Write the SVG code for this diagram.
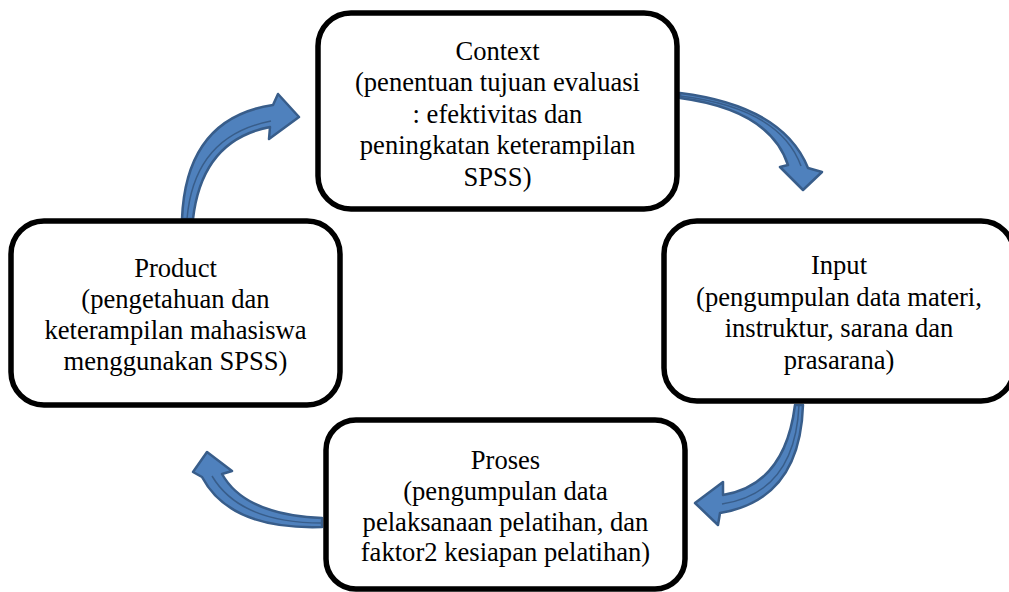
<svg xmlns="http://www.w3.org/2000/svg" width="1009" height="592" viewBox="0 0 1009 592">
<style>
.box{fill:#ffffff;stroke:#000000;stroke-width:5.5}
text{font-family:'Liberation Serif','DejaVu Serif',serif;font-size:26.6px;fill:#000000;text-anchor:middle}
.arr{fill:#4F81BD;stroke:#385D8A;stroke-width:2.5;stroke-linejoin:round}
.fold{fill:none;stroke:#385D8A;stroke-width:1.5}
</style>
<rect width="1009" height="592" fill="#ffffff"/>
<g id="connectors">
<path class="arr" d="M182,219 Q186,118 273,105 L278,94 L299,117 L269,139 L270,127 Q202,140 193,219 Z"/>
<path class="fold" d="M187,219 Q194,136 271,121"/>
<path class="arr" d="M680,93 Q783,106 808,168 L822,172 L803,190 L780,167 L788,165 Q770,110 680,98 Z"/>
<path class="fold" d="M680,96 Q780,108 801,166"/>
<path class="arr" d="M803,405 Q800,500 720,513 L718,525 L695,503 L723,482 L723,495 Q785,485 795,405 Z"/>
<path class="fold" d="M799,405 Q795,493 722,504"/>
<path class="arr" d="M322,527 Q230,530 202,477 L193,472 L207,452 L232,471 L222,474 Q245,515 322,518 Z"/>
<path class="fold" d="M322,523 Q240,523 212,476"/>
</g>
<g id="context" font-family="Liberation Serif, serif">
<rect class="box" x="318" y="13" width="359" height="196" rx="33"/>
<text x="497.5" y="59.5">Context</text>
<text x="497.5" y="91">(penentuan tujuan evaluasi</text>
<text x="497.5" y="122.5">: efektivitas dan</text>
<text x="497.5" y="154">peningkatan keterampilan</text>
<text x="497.5" y="185.5">SPSS)</text>
</g>
<g id="input" font-family="Liberation Serif, serif">
<rect class="box" x="664" y="221" width="350" height="180" rx="33"/>
<text x="839" y="274">Input</text>
<text x="839" y="305.5">(pengumpulan data materi,</text>
<text x="839" y="337">instruktur, sarana dan</text>
<text x="839" y="368.5">prasarana)</text>
</g>
<g id="product" font-family="Liberation Serif, serif">
<rect class="box" x="11" y="221" width="329" height="184" rx="33"/>
<text x="175.5" y="277">Product</text>
<text x="175.5" y="308">(pengetahuan dan</text>
<text x="175.5" y="339">keterampilan mahasiswa</text>
<text x="175.5" y="370">menggunakan SPSS)</text>
</g>
<g id="proses" font-family="Liberation Serif, serif">
<rect class="box" x="326" y="420" width="359" height="169" rx="30"/>
<text x="505.5" y="469">Proses</text>
<text x="505.5" y="500">(pengumpulan data</text>
<text x="505.5" y="530.5">pelaksanaan pelatihan, dan</text>
<text x="505.5" y="561">faktor2 kesiapan pelatihan)</text>
</g>
</svg>
